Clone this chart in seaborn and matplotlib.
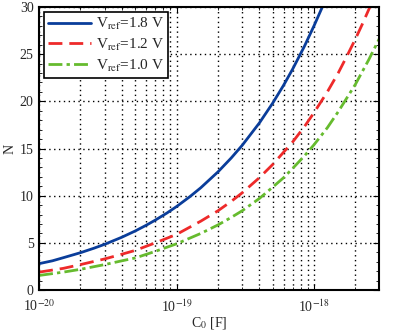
import matplotlib
matplotlib.use("Agg")
import matplotlib.pyplot as plt
import matplotlib.ticker as mticker
import seaborn as sns
import pandas as pd
import numpy as np

# Data
c0_blue = [1e-20, 1.25e-20, 1.5e-20, 2e-20, 2.5e-20, 3e-20, 4e-20, 5e-20, 6e-20, 7e-20, 8.5e-20, 1e-19,
           1.25e-19, 1.5e-19, 2e-19, 2.5e-19, 3e-19, 4e-19, 5e-19, 6e-19, 7e-19, 8.5e-19, 1e-18, 1.15e-18]
n_blue = [2.8, 3.1, 3.43, 3.96, 4.43, 4.85, 5.6, 6.26, 6.86, 7.41, 8.16, 8.85,
          9.9, 10.84, 12.52, 14.0, 15.33, 17.7, 19.8, 21.69, 23.43, 25.81, 28.0, 30.0]
c0_red = [1e-20, 1.5e-20, 2e-20, 3e-20, 4e-20, 5e-20, 7e-20, 1e-19, 1.5e-19, 2e-19, 2.5e-19, 3e-19,
          4e-19, 5e-19, 6e-19, 7e-19, 8.5e-19, 1e-18, 1.25e-18, 1.5e-18, 1.75e-18, 2e-18, 2.25e-18, 2.55e-18]
n_red = [1.9, 2.3, 2.7, 3.3, 3.8, 4.2, 5.0, 5.9, 7.3, 8.4, 9.4, 10.3,
         11.9, 13.3, 14.6, 15.7, 17.3, 18.8, 21.0, 23.0, 24.9, 26.6, 28.2, 30.0]
c0_green = [1e-20, 1.5e-20, 2e-20, 3e-20, 4e-20, 5e-20, 7e-20, 1e-19, 1.5e-19, 2e-19, 2.5e-19, 3e-19,
            4e-19, 5e-19, 6e-19, 7e-19, 8.5e-19, 1e-18, 1.25e-18, 1.5e-18, 2e-18, 2.5e-18, 3e-18]
n_green = [1.55, 1.9, 2.2, 2.7, 3.1, 3.4, 4.1, 4.9, 6.0, 6.9, 7.7, 8.4,
           9.7, 10.9, 11.9, 12.9, 14.2, 15.4, 17.2, 18.9, 21.8, 24.4, 26.7]
labels = [r"V$_{\mathrm{ref}}$=1.8 V", r"V$_{\mathrm{ref}}$=1.2 V", r"V$_{\mathrm{ref}}$=1.0 V"]
colors = ["#0a3d9a", "#ee2a2a", "#66bb2e"]

df = pd.concat([
    pd.DataFrame({"C0": c0_blue, "N": n_blue, "s": labels[0]}),
    pd.DataFrame({"C0": c0_red, "N": n_red, "s": labels[1]}),
    pd.DataFrame({"C0": c0_green, "N": n_green, "s": labels[2]}),
])

sns.set_style("white")
plt.rcParams["font.family"] = ["Liberation Serif", "DejaVu Serif"]
plt.rcParams["mathtext.fontset"] = "stix"

fig = plt.figure(figsize=(3.95, 3.3), dpi=100)
ax = fig.add_axes([0.099, 0.121, 0.86, 0.858])

styles = ["-", (0, (5, 2.5)), (0, (5, 1.5, 1.2, 1.5))]
for lab, col, ls in zip(labels, colors, styles):
    sub = df[df["s"] == lab]
    sns.lineplot(data=sub, x="C0", y="N", ax=ax, color=col, lw=2, label=lab,
                 linestyle=ls, sort=False)

ax.set_xscale("log")
ax.set_xlim(1e-20, 2.96e-18)
ax.set_ylim(0, 30)
ax.set_yticks([0, 5, 10, 15, 20, 25, 30])
ax.yaxis.set_minor_locator(mticker.MultipleLocator(1))
ax.set_xticks([1e-20, 1e-19, 1e-18])
ax.set_xticklabels([r"10$^{-20}$", r"10$^{-19}$", r"10$^{-18}$"])
ax.xaxis.set_minor_locator(mticker.LogLocator(base=10, subs=np.arange(2, 10), numticks=20))
ax.xaxis.set_minor_formatter(mticker.NullFormatter())

ax.grid(True, which="major", axis="both", color="black", linestyle=(0, (1, 2.5)), lw=1.0)
ax.grid(True, which="minor", axis="x", color="black", linestyle=(0, (1, 2.5)), lw=1.0)

ax.tick_params(which="both", direction="in", top=True, right=True, labelsize=10,
               color="black", left=True, bottom=True)
ax.tick_params(axis="x", pad=6)
ax.tick_params(axis="y", pad=4)
ax.tick_params(which="major", length=4)
ax.tick_params(which="minor", length=2.5)
for sp in ax.spines.values():
    sp.set_color("black")
    sp.set_linewidth(1.5)

ax.set_xlabel(r"C$_0$ [F]", fontsize=10, labelpad=0)
ax.set_ylabel("N", fontsize=10, labelpad=2)

leg = ax.legend(loc="upper left", fontsize=11, frameon=True, fancybox=False,
                handlelength=2.8, borderpad=0.3, labelspacing=0.3, handletextpad=0.3,
                borderaxespad=0.3)
leg.get_frame().set_edgecolor("black")
leg.get_frame().set_linewidth(1.2)
leg.get_frame().set_alpha(1)

fig.savefig("out.png", dpi=100)
